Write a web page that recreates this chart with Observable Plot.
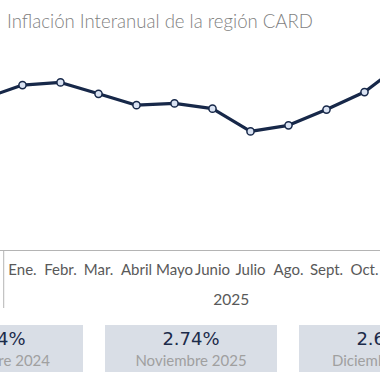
<!DOCTYPE html>
<html><head><meta charset="utf-8">
<script src="https://cdn.jsdelivr.net/npm/d3@7"></script>
<script src="https://cdn.jsdelivr.net/npm/@observablehq/plot@0.6"></script>
<style>
html,body{margin:0;padding:0;background:#fff;}
#wrap{position:relative;width:380px;height:380px;overflow:hidden;font-family:Lato,"Open Sans",sans-serif;}
#title{position:absolute;left:7px;top:11.5px;font-size:18.6px;line-height:1;color:#7f7f7f;font-weight:300;white-space:nowrap;}
#chart{position:absolute;left:-60px;top:0;width:540px;height:315px;}
#chart svg{max-width:none !important;width:540px;height:315px;}
.card{position:absolute;top:325px;width:172px;height:47px;background:#d9dee6;}
.val{position:absolute;left:0;right:0;top:4.8px;text-align:center;font-family:"DejaVu Sans",sans-serif;font-size:18px;line-height:1;color:#1c2b4a;white-space:nowrap;}
.lab{position:absolute;left:0;right:0;top:28.4px;text-align:center;font-family:Lato,sans-serif;font-size:15px;line-height:1;color:#a0a0a0;white-space:nowrap;}
</style>
</head><body>
<div id="wrap">
  <div id="title"></div>
  <div id="chart"></div>
</div>
<script>
const titleText = "Inflación Interanual de la región CARD";
const months = ["2024-12","2025-01","2025-02","2025-03","2025-04","2025-05","2025-06","2025-07","2025-08","2025-09","2025-10","2025-11","2025-12"];
const monthLabels = ["Dic.","Ene.","Febr.","Mar.","Abril","Mayo","Junio","Julio","Ago.","Sept.","Oct.","Nov.","Dic."];
const inflation = [2.34,2.49,2.52,2.39,2.26,2.28,2.22,1.96,2.03,2.21,2.41,2.74,2.65];
const groupLabels = ["2025"];
const cardMonths = ["2024-12","2025-11","2025-12"];
const cardLabels = ["Diciembre 2024","Noviembre 2025","Diciembre 2025"];

document.getElementById("title").textContent = titleText;

const data = months.map((m, i) => ({month: m, value: inflation[i]}));
const W = 540, ML = 21.63, MR = 16.83;
const bw = (W - ML - MR) / months.length;
const axisColor = "#b4b4b4";
const lineColor = "#172849";
const fmt = d => monthLabels[months.indexOf(d)];

const chart = Plot.plot({
  width: W, height: 315,
  marginLeft: ML, marginRight: MR, marginTop: 0, marginBottom: 65,
  x: {type: "band", domain: months, padding: 0, tickFormat: fmt, label: null},
  y: {domain: [2.0, 2.8], range: [127.45, 57.45], axis: null},
  style: {fontFamily: "Lato, sans-serif", color: "#595959", background: "transparent"},
  marks: [
    Plot.frame({anchor: "bottom", stroke: axisColor, strokeOpacity: 1}),
    Plot.ruleX([months[1]], {dx: -bw / 2 + 0.5, insetTop: 250, insetBottom: -58, stroke: axisColor}),
    Plot.ruleX([months[12]], {dx: bw / 2, insetTop: 250, insetBottom: -58, stroke: axisColor}),
    Plot.axisX({tickSize: 0, tickPadding: 13.7, fontSize: 15, fill: "#595959", tickFormat: fmt, label: null}),
    Plot.text(groupLabels, {x: () => months[7], dx: -bw / 2, frameAnchor: "bottom", dy: 54, fontSize: 15.5, fill: "#595959"}),
    Plot.line(data, {x: "month", y: "value", stroke: lineColor, strokeWidth: 3.2}),
    Plot.dot(data, {x: "month", y: "value", r: 3.6, fill: "#dae3f3", stroke: lineColor, strokeWidth: 1.5})
  ]
});
document.getElementById("chart").appendChild(chart);

const wrap = document.getElementById("wrap");
const cardLeft = [-89, 105, 299];
cardMonths.forEach((m, i) => {
  const v = inflation[months.indexOf(m)];
  const c = document.createElement("div");
  c.className = "card";
  c.style.left = cardLeft[i] + "px";
  const a = document.createElement("div"); a.className = "val"; a.textContent = v.toFixed(2) + "%";
  const b = document.createElement("div"); b.className = "lab"; b.textContent = cardLabels[i];
  c.appendChild(a); c.appendChild(b);
  wrap.appendChild(c);
});
</script>
</body></html>
